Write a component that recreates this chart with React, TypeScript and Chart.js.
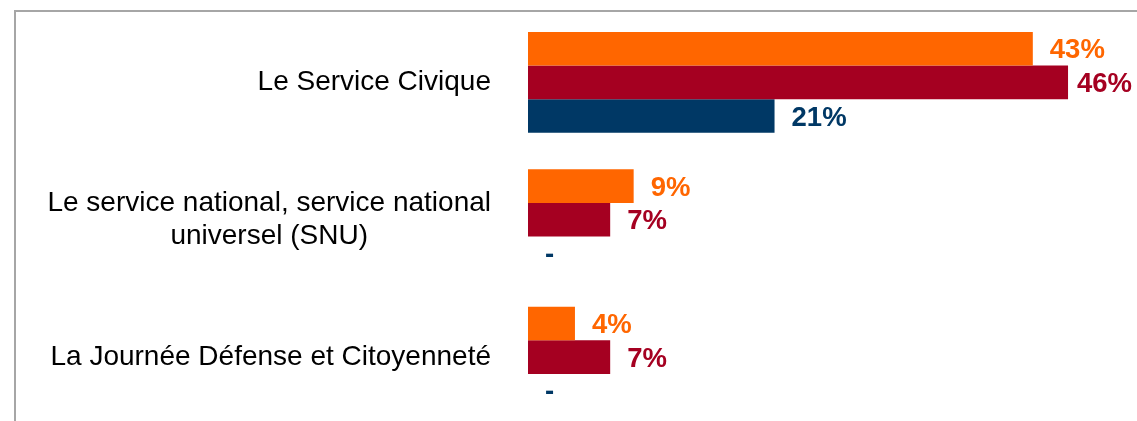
import React, { useEffect, useRef } from "react";
import { Chart, registerables } from "chart.js";

Chart.register(...registerables);

const categories: string[][] = [
  ["Le Service Civique"],
  ["Le service national, service national", "universel (SNU)"],
  ["La Journée Défense et Citoyenneté"],
];
const seriesA: (number | null)[] = [43, 9, 4];
const seriesB: (number | null)[] = [46, 7, 7];
const seriesC: (number | null)[] = [21, null, null];
const seriesNames = ["Série 1", "Série 2", "Série 3"];
const colors = ["#FF6600", "#A50021", "#003865"];
const xMax = 50;

const FONT = "'Liberation Sans', Arial, sans-serif";
const CAT_SIZE = 28;
const VAL_SIZE = 27.5;

const categoryLabelsPlugin = {
  id: "categoryLabels",
  afterDraw(chart: any) {
    const { ctx, chartArea, scales } = chart;
    const y = scales.y;
    ctx.save();
    ctx.font = `${CAT_SIZE}px ${FONT}`;
    ctx.fillStyle = "#000000";
    ctx.textAlign = "center";
    ctx.textBaseline = "middle";
    const lh = CAT_SIZE * 1.2;
    categories.forEach((lines, i) => {
      const cy = y.getPixelForTick(i);
      const maxW = Math.max(...lines.map((l) => ctx.measureText(l).width));
      const right = chartArea.left - 37;
      const cx = right - maxW / 2;
      const top = cy - ((lines.length - 1) * lh) / 2;
      lines.forEach((l, j) => ctx.fillText(l, cx, top + j * lh));
    });
    ctx.restore();
  },
};

const valueLabelsPlugin = {
  id: "valueLabels",
  afterDatasetsDraw(chart: any) {
    const { ctx, scales } = chart;
    const x = scales.x;
    ctx.save();
    ctx.font = `bold ${VAL_SIZE}px ${FONT}`;
    ctx.textAlign = "left";
    ctx.textBaseline = "middle";
    chart.data.datasets.forEach((ds: any, di: number) => {
      const meta = chart.getDatasetMeta(di);
      meta.data.forEach((el: any, i: number) => {
        const v = ds.data[i];
        const text = v == null ? "-" : `${v}%`;
        const end = x.getPixelForValue(v == null ? 0 : v);
        let tx = end + 17;
        const w = ctx.measureText(text).width;
        if (tx + w > chart.width - 5) tx = chart.width - 5 - w;
        ctx.fillStyle = colors[di];
        ctx.fillText(text, tx, el.y + 2);
      });
    });
    ctx.restore();
  },
};

export default function App() {
  const ref = useRef<HTMLCanvasElement>(null);
  useEffect(() => {
    if (!ref.current) return;
    const chart = new Chart(ref.current, {
      type: "bar",
      data: {
        labels: categories.map((c) => c.join(" ")),
        datasets: [seriesA, seriesB, seriesC].map((d, i) => ({
          label: seriesNames[i],
          data: d,
          backgroundColor: colors[i],
          borderWidth: 0,
          categoryPercentage: 0.7336,
          barPercentage: 1,
        })),
      },
      options: {
        indexAxis: "y",
        responsive: false,
        animation: false,
        layout: { padding: { left: 528, right: 1137 - 528 - xMax * 11.74, top: 13.7, bottom: 4.2 } },
        plugins: { legend: { display: false }, tooltip: { enabled: false } },
        scales: {
          x: { display: false, min: 0, max: xMax, grid: { display: false } },
          y: { display: false, grid: { display: false } },
        },
      },
      plugins: [categoryLabelsPlugin, valueLabelsPlugin],
    });
    return () => chart.destroy();
  }, []);
  return (
    <div style={{ position: "absolute", left: 0, top: 0, width: 1137, height: 421, overflow: "hidden", background: "#fff" }}>
      <div
        style={{
          position: "absolute",
          left: 14,
          top: 10,
          width: 1200,
          height: 500,
          borderTop: "2px solid #A6A6A6",
          borderLeft: "2px solid #A6A6A6",
        }}
      />
      <canvas ref={ref} width={1137} height={430} style={{ position: "absolute", left: 0, top: 0 }} />
    </div>
  );
}
